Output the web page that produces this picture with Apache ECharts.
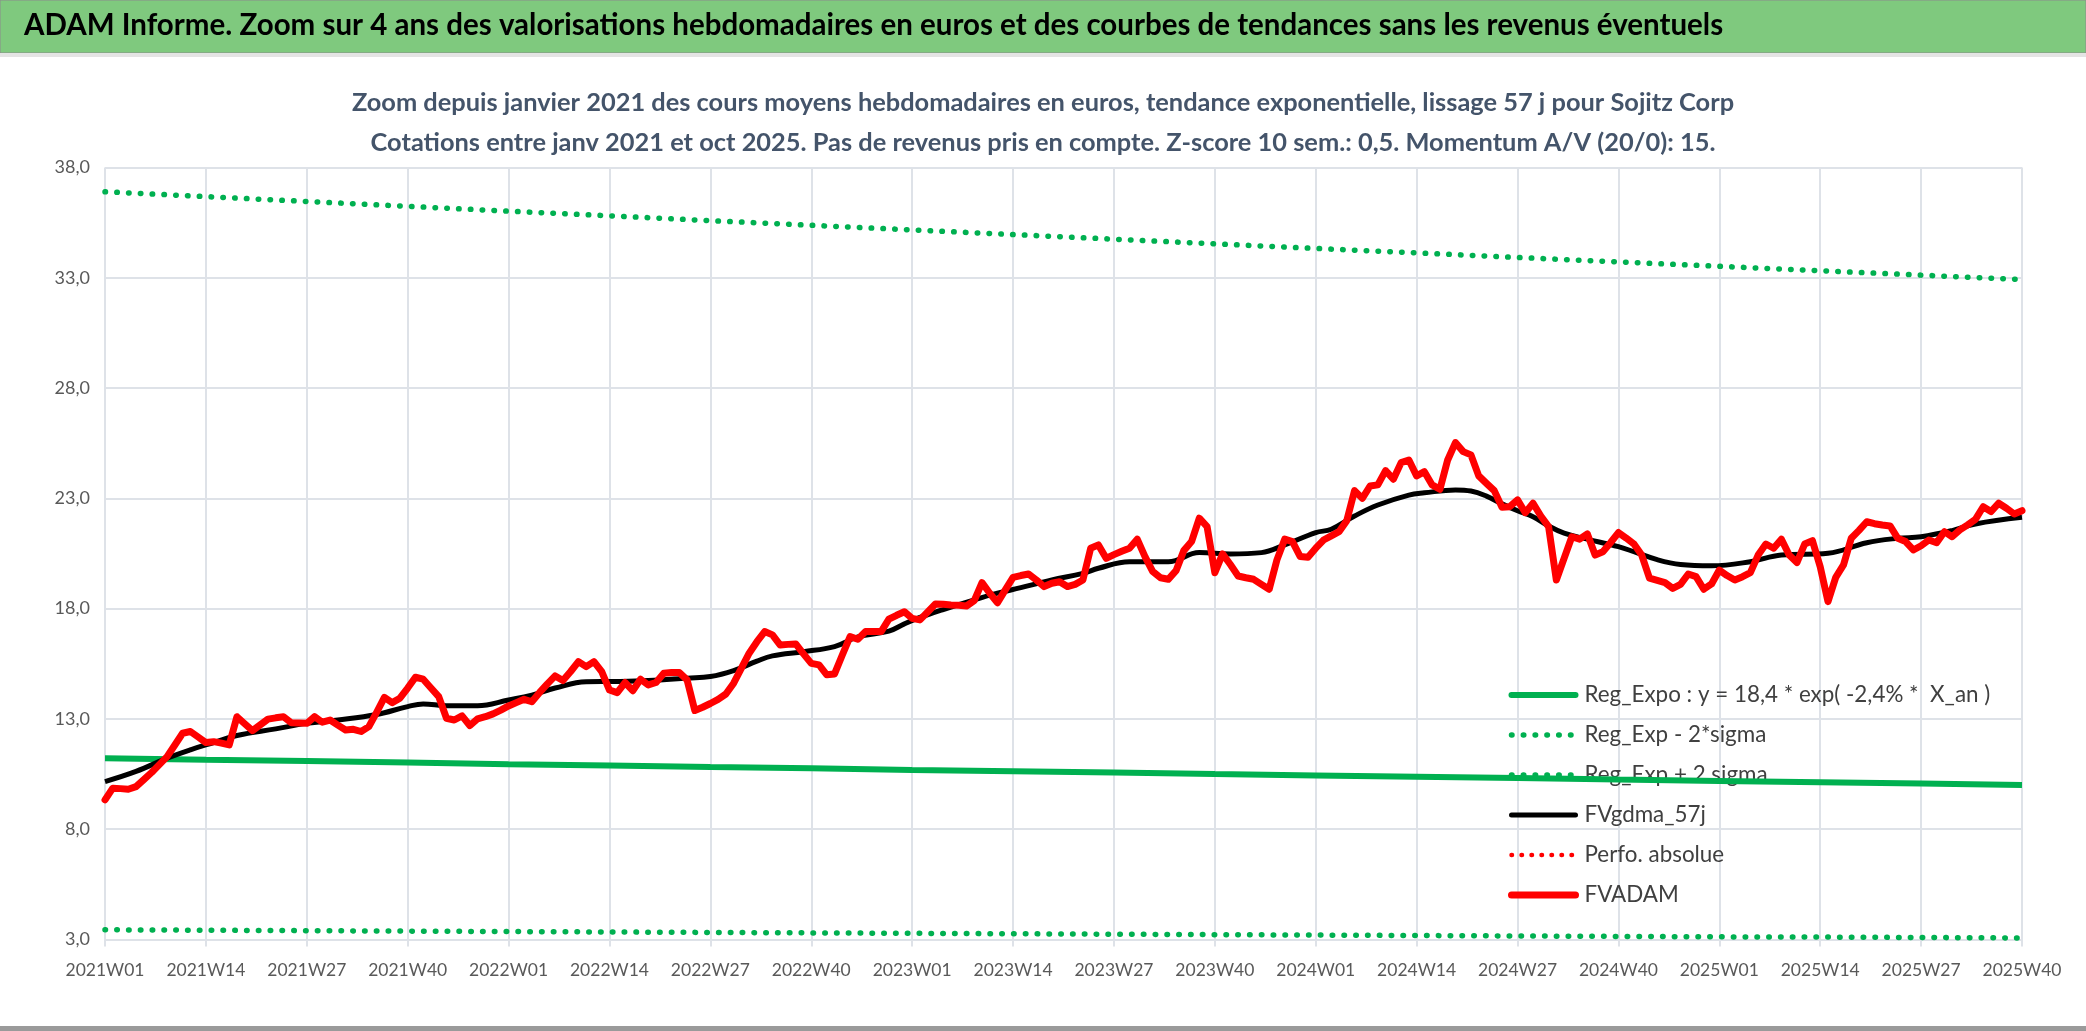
<!DOCTYPE html>
<html>
<head>
<meta charset="utf-8">
<script src="https://cdn.jsdelivr.net/npm/echarts@6/dist/echarts.min.js"></script>
<style>
  html, body { margin: 0; padding: 0; background: #fff; }
  #main { width: 2086px; height: 1031px; }
</style>
</head>
<body>
<div id="main"></div>
<script>
// libellés des semaines 2021W01 .. 2025W40
const weekYears = [2021, 2022, 2023, 2024, 2025];
const weeksPerYear = [52, 52, 52, 52, 40];
const weeks = [];
weekYears.forEach((y, k) => {
  for (let w = 1; w <= weeksPerYear[k]; w++) {
    weeks.push(y + 'W' + (w < 10 ? '0' + w : w));
  }
});

// FVADAM : cours moyens hebdomadaires
const fvadam = [
  9.33, 9.86, 9.84, 9.81, 9.93, 10.25, 10.57, 10.93, 11.29, 11.82,
  12.35, 12.43, 12.18, 11.93, 11.97, 11.9, 11.82, 13.1, 12.78, 12.47,
  12.73, 12.99, 13.05, 13.1, 12.83, 12.82, 12.8, 13.1, 12.85, 12.95,
  12.72, 12.5, 12.53, 12.43, 12.65, 13.3, 13.98, 13.74, 13.94, 14.4,
  14.89, 14.8, 14.4, 14.01, 13.03, 12.95, 13.14, 12.7, 13.0, 13.1,
  13.23, 13.4, 13.59, 13.74, 13.89, 13.78, 14.2, 14.59, 14.95, 14.74,
  15.15, 15.6, 15.37, 15.6, 15.14, 14.31, 14.19, 14.65, 14.28, 14.8,
  14.54, 14.65, 15.07, 15.1, 15.1, 14.77, 13.38, 13.53, 13.7, 13.89,
  14.13, 14.62, 15.3, 15.98, 16.5, 16.96, 16.81, 16.35, 16.38, 16.4,
  15.95, 15.52, 15.45, 15.0, 15.04, 15.9, 16.73, 16.61, 16.96, 16.96,
  16.96, 17.52, 17.7, 17.86, 17.56, 17.49, 17.85, 18.21, 18.2, 18.17,
  18.15, 18.12, 18.36, 19.18, 18.7, 18.27, 18.85, 19.42, 19.5, 19.57,
  19.3, 19.0, 19.15, 19.22, 19.0, 19.1, 19.3, 20.74, 20.89, 20.28,
  20.45, 20.6, 20.74, 21.15, 20.36, 19.68, 19.4, 19.33, 19.72, 20.63,
  21.04, 22.1, 21.72, 19.63, 20.48, 20.0, 19.48, 19.4, 19.33, 19.1,
  18.88, 20.21, 21.15, 21.04, 20.36, 20.33, 20.74, 21.11, 21.3, 21.49,
  21.99, 23.35, 23.0, 23.56, 23.61, 24.26, 23.87, 24.62, 24.74, 24.02,
  24.21, 23.61, 23.41, 24.74, 25.53, 25.12, 24.97, 24.02, 23.68, 23.35,
  22.6, 22.62, 22.93, 22.35, 22.78, 22.2, 21.72, 19.3, 20.28, 21.26,
  21.15, 21.39, 20.43, 20.58, 21.0, 21.45, 21.2, 20.93, 20.43, 19.38,
  19.28, 19.18, 18.92, 19.1, 19.57, 19.45, 18.88, 19.12, 19.75, 19.5,
  19.3, 19.45, 19.63, 20.43, 20.93, 20.74, 21.15, 20.43, 20.09, 20.93,
  21.08, 19.9, 18.32, 19.42, 19.98, 21.19, 21.55, 21.94, 21.85, 21.79,
  21.75, 21.19, 21.04, 20.66, 20.85, 21.11, 20.99, 21.49, 21.26, 21.57,
  21.8, 22.05, 22.62, 22.4, 22.78, 22.55, 22.29, 22.44
];

// FVgdma_57j : moyenne lissée, [index semaine, valeur]
const gdma57 = [
  [0, 10.16], [4, 10.62], [8, 11.22], [11, 11.6], [14, 11.93], [17, 12.25],
  [22, 12.55], [26, 12.8], [30, 12.95], [35, 13.2], [39, 13.56], [41, 13.68],
  [44, 13.6], [48, 13.6], [52, 13.86], [55, 14.08], [58, 14.4], [62, 14.69],
  [66, 14.7], [70, 14.74], [75, 14.85], [78, 14.92], [81, 15.19], [84, 15.62],
  [86, 15.86], [90, 16.05], [94, 16.28], [97, 16.72], [101, 16.98], [103, 17.31],
  [105, 17.6], [108, 17.96], [112, 18.4], [115, 18.7], [118, 18.95], [122, 19.3],
  [126, 19.6], [128, 19.83], [132, 20.13], [137, 20.13], [141, 20.54], [145, 20.48],
  [149, 20.54], [152, 20.89], [156, 21.45], [158, 21.6], [161, 22.2], [164, 22.7],
  [168, 23.15], [170, 23.25], [174, 23.38], [176, 23.33], [178, 23.1], [180, 22.75],
  [182, 22.44], [184, 22.17], [186, 21.75], [188, 21.42], [191, 21.15], [195, 20.81],
  [197, 20.58], [200, 20.22], [203, 20.0], [207, 19.94], [212, 20.13], [216, 20.43],
  [222, 20.51], [227, 20.99], [231, 21.19], [234, 21.26], [238, 21.54], [241, 21.84],
  [247, 22.14]
];

// tendances : valeurs lues toutes les 13 semaines
const trendIdx = [0, 13, 26, 39, 52, 65, 78, 91, 104, 117, 130, 143, 156, 169, 182, 195, 208, 221, 234, 247];
const regExpo = [11.22, 11.15, 11.09, 11.02, 10.95, 10.89, 10.82, 10.76, 10.69, 10.63,
  10.57, 10.5, 10.44, 10.38, 10.32, 10.25, 10.19, 10.13, 10.07, 10.01];
const regPlus = [36.9, 36.68, 36.46, 36.24, 36.02, 35.81, 35.59, 35.38, 35.17, 34.96,
  34.75, 34.54, 34.33, 34.13, 33.92, 33.72, 33.52, 33.32, 33.12, 32.92];
const regMinus = [3.44, 3.42, 3.4, 3.38, 3.36, 3.34, 3.32, 3.3, 3.28, 3.26,
  3.24, 3.22, 3.2, 3.18, 3.16, 3.14, 3.12, 3.11, 3.09, 3.07];
const perfoAbs = [];

const pairs = (vals) => vals.map((v, k) => [trendIdx[k], v]);

const FONT = 'Lato';
const GREEN = '#00B050';
const GRID = '#DEE2E8';

const chart = echarts.init(document.getElementById('main'));
const option = {
  backgroundColor: '#fff',
  animation: false,
  graphic: [
    { type: 'rect', z: 0, shape: { x: 0, y: 0, width: 2086, height: 53 },
      style: { fill: '#7FC97E', stroke: '#8C8C8C', lineWidth: 1 } },
    { type: 'rect', shape: { x: 0, y: 53, width: 2086, height: 4 }, style: { fill: '#E4E4E4' } },
    { type: 'rect', shape: { x: 0, y: 1026, width: 2086, height: 5 }, style: { fill: '#9A9A9A' } },
    { type: 'text', left: 24, top: 10,
      style: { text: 'ADAM Informe. Zoom sur 4 ans des valorisations hebdomadaires en euros et des courbes de tendances sans les revenus éventuels',
        font: 'bold 29.5px ' + FONT, fill: '#000' } }
  ],
  title: [
    { text: 'Zoom depuis janvier 2021 des cours moyens hebdomadaires en euros, tendance exponentielle, lissage 57 j pour Sojitz Corp',
      left: 'center', top: 85,
      textStyle: { fontFamily: FONT, fontWeight: 'bold', fontSize: 25.4, color: '#44546A' } },
    { text: 'Cotations entre janv 2021 et oct 2025. Pas de revenus pris en compte. Z-score 10 sem.: 0,5. Momentum A/V (20/0): 15.',
      left: 'center', top: 125,
      textStyle: { fontFamily: FONT, fontWeight: 'bold', fontSize: 25.4, color: '#44546A' } }
  ],
  grid: { left: 105, right: 64, top: 167.5, bottom: 91.5, containLabel: false },
  legend: {
    orient: 'vertical', left: 1503, top: 679,
    itemWidth: 64, itemHeight: 14, itemGap: 18,
    itemStyle: { color: 'rgba(0,0,0,0)', borderWidth: 0, opacity: 0 },
    lineStyle: { width: 'inherit', type: 'inherit', cap: 'round' },
    textStyle: { fontFamily: FONT, fontSize: 22.4, color: '#404040', lineHeight: 22, padding: [0, 0, 0, 4] },
    data: ['Reg_Expo : y = 18,4 * exp( -2,4% *  X_an )', 'Reg_Exp - 2*sigma', 'Reg_Exp + 2 sigma',
      'FVgdma_57j', 'Perfo. absolue', 'FVADAM']
  },
  xAxis: {
    type: 'category', data: weeks, boundaryGap: false,
    axisLine: { lineStyle: { color: GRID, width: 2 } },
    axisTick: { show: true, interval: 12, length: 7, lineStyle: { color: GRID, width: 2 } },
    axisLabel: { interval: 12, color: '#595959', fontFamily: FONT, fontSize: 17.5, margin: 22 },
    splitLine: { show: true, interval: 12, lineStyle: { color: GRID, width: 2 } }
  },
  yAxis: {
    type: 'value', min: 3, max: 38, interval: 5,
    axisLine: { show: false }, axisTick: { show: false },
    axisLabel: { color: '#595959', fontFamily: FONT, fontSize: 18, margin: 15,
      formatter: (v) => v.toFixed(1).replace('.', ',') },
    splitLine: { lineStyle: { color: GRID, width: 2 } }
  },
  series: [
    { name: 'Reg_Expo : y = 18,4 * exp( -2,4% *  X_an )', type: 'line', data: pairs(regExpo),
      symbol: 'none', z: 5, lineStyle: { color: GREEN, width: 6 }, itemStyle: { color: GREEN } },
    { name: 'Reg_Exp - 2*sigma', type: 'line', data: pairs(regMinus), symbol: 'none',
      lineStyle: { color: GREEN, width: 5.5, type: [0.5, 11.3], cap: 'round' }, itemStyle: { color: GREEN } },
    { name: 'Reg_Exp + 2 sigma', type: 'line', data: pairs(regPlus), symbol: 'none',
      lineStyle: { color: GREEN, width: 5.5, type: [0.5, 11.3], cap: 'round' }, itemStyle: { color: GREEN } },
    { name: 'FVgdma_57j', type: 'line', data: gdma57, symbol: 'none', smooth: 0.4, z: 5,
      lineStyle: { color: '#000', width: 5 }, itemStyle: { color: '#000' } },
    { name: 'Perfo. absolue', type: 'line', data: perfoAbs, symbol: 'none',
      lineStyle: { color: '#FF0000', width: 4.5, type: [0.5, 9.5], cap: 'round' }, itemStyle: { color: '#FF0000' } },
    { name: 'FVADAM', type: 'line', data: fvadam, symbol: 'none', z: 6,
      lineStyle: { color: '#FF0000', width: 7, join: 'round', cap: 'round' }, itemStyle: { color: '#FF0000' } }
  ]
};
chart.setOption(option);
</script>
</body>
</html>
